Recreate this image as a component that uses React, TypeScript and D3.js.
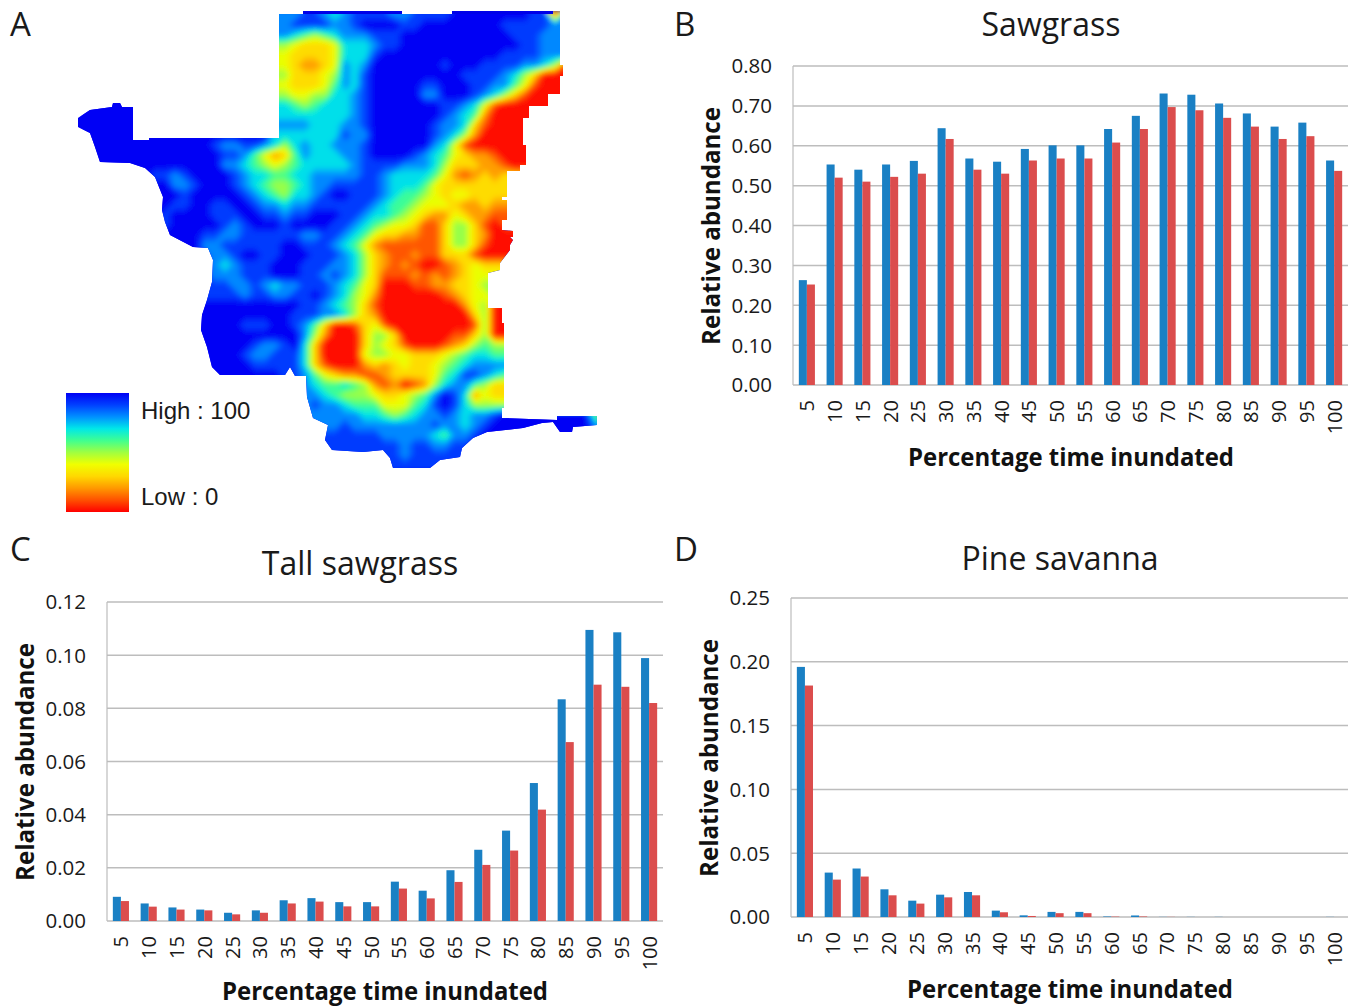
import React, { useEffect, useRef } from 'react'
import * as d3 from 'd3'

const percentInundated = ['5', '10', '15', '20', '25', '30', '35', '40', '45', '50', '55', '60', '65', '70', '75', '80', '85', '90', '95', '100']

const sawgrassBlue = [0.263, 0.553, 0.54, 0.553, 0.562, 0.644, 0.568, 0.56, 0.592, 0.601, 0.601, 0.642, 0.675, 0.731, 0.728, 0.706, 0.681, 0.648, 0.658, 0.563]
const sawgrassRed = [0.252, 0.52, 0.51, 0.522, 0.53, 0.617, 0.54, 0.53, 0.563, 0.568, 0.568, 0.608, 0.642, 0.697, 0.689, 0.67, 0.648, 0.617, 0.624, 0.537]
const sawgrassTicks = [0, 0.1, 0.2, 0.3, 0.4, 0.5, 0.6, 0.7, 0.8]

const tallBlue = [0.0091, 0.0066, 0.0051, 0.0043, 0.0031, 0.004, 0.0078, 0.0086, 0.0071, 0.0071, 0.0148, 0.0114, 0.0191, 0.0268, 0.034, 0.0519, 0.0834, 0.1095, 0.1086, 0.0989]
const tallRed = [0.0075, 0.0054, 0.0043, 0.004, 0.0025, 0.0031, 0.0066, 0.0073, 0.0055, 0.0055, 0.0122, 0.0085, 0.0147, 0.0211, 0.0265, 0.0419, 0.0673, 0.0889, 0.0881, 0.082]
const tallTicks = [0, 0.02, 0.04, 0.06, 0.08, 0.1, 0.12]

const pineBlue = [0.196, 0.0348, 0.038, 0.0217, 0.0128, 0.0175, 0.0196, 0.005, 0.0013, 0.004, 0.004, 0.0004, 0.0012, 0.0001, 0.0001, 0.0001, 0, 0, 0, 0.0001]
const pineRed = [0.1814, 0.0293, 0.0317, 0.017, 0.0105, 0.0154, 0.017, 0.0037, 0.0008, 0.003, 0.003, 0.0003, 0.0004, 0.0001, 0, 0, 0, 0, 0, 0]
const pineTicks = [0, 0.05, 0.1, 0.15, 0.2, 0.25]

// map values, one char per 10x10 cell, 0..9 then a = 100. short rows repeat their last char
const mapRows = [
  'aaaaaaaaaa aaaaaaaaa8 8899878999 9889999aaa aaaaa99288 88',
  'aaaaaaaaaa aaaaaaaaa8 89999889aa aa99aaaaaa aa99999888 88',
  'aaaaaaaaaa aaaaaaaaa8 8765678889 99aaaaaaaa aaa9998888 88',
  'aaaaaaaaaa aaaaaaaaa5 5433347778 99aaaaaaaa aaaa998888 88',
  'aaaaaaaaaa aaaaaaaaa4 4333347779 aaaaaaaaaa aa99998888 88',
  'aaaaaaaaaa aaaaaaaaa4 432234878a aaaaaa9aaa 9999887511 11',
  'aaaaaaaaaa aaaaaaaaa5 533345879a aaaaaaaa99 9987530000 00',
  'aaaaaaaaaa aaaaaaaaa4 433346879a aaaa99aaa9 9886410000 00',
  'aaaaaaaaaa aaaaaaaaa5 544557789a aaaa88aaa9 8753100000 00',
  'aaaaaaaaaa aaaaaaaaa7 765677789a aaaaaa9987 4100000000 00',
  'aaaaaaaaaa aaaaaaaaa7 777777789a aaaaaa9876 2000000000 00',
  'aaaaaaaaaa aaaaaaaaa8 888777889a aaaaa98873 1000000000 00',
  'aaaaaaaaaa aaaaaaaaa7 777777988a aaaaa98752 0000000000 00',
  'aaaaaaaaaa aaa9889987 578778889a aaaaa87410 0000000000 00',
  'aaaaaaaaaa aaaa998642 368777889a aaa9876432 2100000000 00',
  'aaaaaaaaaa aaaa887654 5677777899 9988875333 2210000000 00',
  'aaaaaaa998 9aaaa98776 6778888899 8777764212 3233333333 33',
  'aaaaaaaaa8 89aaa98765 5678899999 8777643333 3333333333 33',
  'aaaaaaaaaa 9aaaaa9876 57789aa999 8766543443 3333333333 33',
  'aaaaaaaaa9 9aa99aa988 7889999998 7665444322 3222222222 22',
  'aaaaaaaa9a aaa999aa99 899aaa9987 7654322432 2111111111 11',
  'aaaaaaaa9a aaaa989aaa 9aaaa99876 5443113553 1011111111 11',
  'aaaaaaaaaa aa99889999 9988998764 3322113553 2000000000 00',
  'aaaaaaaaaa aa88999999 aa99987642 1111113553 1000000000 00',
  'aaaaaaaaaa aa9889aa99 aaa9998753 2112113331 0000000000 00',
  'aaaaaaaaaa aa9878999a aa99988753 2121001234 3333333333 33',
  'aaaaaaaaaa aa9888999a aa99898753 1112121234 4444444444 44',
  'aaaaaaaaaa aa99988987 8899987643 0001122334 5555555555 55',
  'aaaaaaaaaa aa99998998 899a987542 0000001234 4555555555 55',
  'aaaaaaaaaa aaaaaaaaaa aa99876531 0000000024 5000000000 00',
  'aaaaaaaaaa aaaaaaaaaa a999887532 0000000003 5000000000 00',
  'aaaaaaaaaa aaaaaa999a a986300134 1000000001 5000000000 00',
  'aaaaaaaaaa aaaaaaaaaa aa85200035 5300000113 5000000000 00',
  'aaaaaaaaaa aaaaaaa988 9a73000035 4310001235 6555555555 55',
  'aaaaaaaaaa aaaaaa9889 9973000045 5443334567 7666666666 66',
  'aaaaaaaaaa aaaaaaa999 9973100023 2343345678 8888888888 88',
  'aaaaaaaaaa aaaaaaaaaa 9986432211 2333346799 8766666666 66',
  'aaaaaaaaaa aaaaaaaaaa 9987667652 1201257886 5333333333 33',
  'aaaaaaaaaa aaaaaaaaaa 8888765554 334568a972 4333333333 33',
  'aaaaaaaaaa aaaaaaaaaa 8889887666 444679a975 5555555555 55',
  'aaaaaaaaaa aaaaaaaaaa 8888888877 6567889878 89aaaaaaaa a6',
  'aaaaaaaaaa aaaaaaaaaa 8888889888 8888898878 9aaaaaaaaa a8',
  'aaaaaaaaaa aaaaaaaaaa 9999999999 8888876889 aaaaaaaaaa aa',
  'aaaaaaaaaa aaaaaaaaaa 9999999999 998998899a aaaaaaaaaa aa',
  'aaaaaaaaaa aaaaaaaaaa 9999999999 998999999a aaaaaaaaaa aa',
  'aaaaaaaaaa aaaaaaaaaa 9999999999 999999999a aaaaaaaaaa aa'
]

// outline of the mapped area in the same cell units as mapRows
const mapOutline: [number, number][] = [
  [19.9, 0.4], [22.3, 0.4], [22.3, 0.1], [32.2, 0.1], [32.2, 0.4], [37.2, 0.4], [37.2, 0.1], [47.3, 0.1], [48, 0.1],
  [48, 5.5], [48.3, 5.5], [48.3, 6.6], [48, 6.6], [48, 8.4], [46.8, 8.4], [46.8, 9.6], [44.9, 9.6], [44.9, 10.8],
  [44.3, 10.8], [44.3, 13.5], [44.6, 13.5], [44.6, 15.5], [44, 15.5], [44, 16.1], [42.7, 16.1], [42.7, 18.7],
  [42.2, 18.7], [42.2, 19], [42.7, 19], [42.7, 21], [42.2, 21], [42.2, 22], [43.3, 22.1], [43.3, 22.7], [43, 22.7],
  [43.3, 23], [43, 23.5], [43, 24], [42, 25.3], [42, 26], [40.8, 26.3], [40.8, 29.8], [42.2, 29.8], [42.2, 31.3],
  [42.4, 31.3], [42.4, 39.8], [42.2, 39.8], [42.2, 40.8], [47.7, 41], [47.7, 40.6], [51.7, 40.6], [51.7, 41.5],
  [49.3, 41.7], [49.2, 42.2], [48, 42.2], [47.3, 41.2], [46.2, 41.3], [44.3, 41.8], [40.7, 42.2], [39.3, 42.8],
  [38.2, 43.8], [38, 44.7], [36, 45], [35, 45.8], [31.3, 45.8], [31, 44.8], [30.3, 44], [28.3, 44.2], [25.2, 44],
  [24.5, 43], [24.8, 41.5], [23.3, 40.8], [22.7, 38.7], [22.6, 36.6], [21.5, 36.6], [21, 35.7], [20.5, 36.5],
  [14, 36.5], [13.2, 35.7], [12.7, 33.7], [12.1, 32], [12.2, 30.5], [12.7, 29], [13.2, 27.2], [13.3, 25],
  [12.8, 23.8], [11.3, 23.7], [9, 22.5], [8.5, 21.2], [8.2, 20], [8.3, 18.7], [7.5, 16.7], [6.5, 15.8], [5, 15.3],
  [2, 15.2], [1.5, 13.7], [1, 12.3], [-0.2, 11.7], [-0.2, 10.8], [1, 10], [3.2, 9.7], [3.3, 9.3], [4, 9.3],
  [4.2, 9.7], [5.3, 9.7], [5.3, 13], [6.9, 13], [6.9, 12.8], [19.9, 12.8]
]

// dark strips along the top edge of the map, start and end in cell units
const mapTopStrips = [[22.3, 32.2], [37.2, 47.3]]

const jetValues = [0, 10, 20, 30, 40, 50, 60, 70, 80, 90, 100]
const jetColors = ['#ff0000', '#ff5000', '#ff9800', '#ffd800', '#f0ff00', '#a0ff40', '#40ff90', '#00e8e8', '#0090ff', '#0040ff', '#0000f4']

const BLUE = '#1a80c4'
const RED = '#db4d4d'
const GRID = '#bdbdbd'
const FONT = '"Open Sans", sans-serif'

const panels = [
  { title: 'Sawgrass', blue: sawgrassBlue, red: sawgrassRed, ticks: sawgrassTicks, max: 0.8, left: 793, right: 1348, top: 66, bottom: 385, titleX: 1051, titleY: 36, yTitleX: 720, yTitleY: 226, xTitleX: 1071, xTitleY: 466 },
  { title: 'Tall sawgrass', blue: tallBlue, red: tallRed, ticks: tallTicks, max: 0.12, left: 107, right: 663, top: 602, bottom: 921, titleX: 360, titleY: 575, yTitleX: 34, yTitleY: 762, xTitleX: 385, xTitleY: 1000 },
  { title: 'Pine savanna', blue: pineBlue, red: pineRed, ticks: pineTicks, max: 0.25, left: 791, right: 1348, top: 598, bottom: 917, titleX: 1060, titleY: 570, yTitleX: 718, yTitleY: 758, xTitleX: 1070, xTitleY: 998 }
]

const panelLetters = [
  { label: 'A', x: 10, y: 36 },
  { label: 'B', x: 674, y: 36 },
  { label: 'C', x: 10, y: 561 },
  { label: 'D', x: 674, y: 561 }
]

export default function App() {
  const svgRef = useRef<SVGSVGElement>(null)

  useEffect(() => {
    const svg = d3.select(svgRef.current)
    svg.selectAll('*').remove()

    const jet = d3.scaleLinear<string>().domain(jetValues).range(jetColors)

    // panel A
    const mapX = d3.scaleLinear().domain([0, 52]).range([80, 600])
    const mapY = d3.scaleLinear().domain([0, 46]).range([10, 470])
    const outlinePath = d3.line()
      .x(d => mapX(d[0]))
      .y(d => mapY(d[1]))
      .curve(d3.curveLinearClosed)(mapOutline)

    const defs = svg.append('defs')
    defs.append('clipPath').attr('id', 'map-clip').append('path').attr('d', outlinePath)
    defs.append('filter')
      .attr('id', 'map-soften')
      .attr('filterUnits', 'userSpaceOnUse')
      .attr('x', 60).attr('y', 0).attr('width', 560).attr('height', 490)
      .append('feGaussianBlur')
      .attr('stdDeviation', 2.5)

    const gradient = defs.append('linearGradient')
      .attr('id', 'legend-ramp')
      .attr('x1', 0).attr('x2', 0).attr('y1', 1).attr('y2', 0)
    jetValues.forEach((v, i) => {
      gradient.append('stop').attr('offset', `${v}%`).attr('stop-color', jetColors[i])
    })

    const cells = mapRows.flatMap(row => {
      const clean = row.replace(/ /g, '')
      return Array.from(clean.padEnd(52, clean[clean.length - 1]).slice(0, 52)).map(c => parseInt(c, 11) * 10)
    })

    const contours = d3.contours().size([52, mapRows.length]).thresholds(d3.range(0, 100, 2))(cells)
    const project = d3.geoPath(d3.geoTransform({
      point(x, y) {
        this.stream.point(mapX(x), mapY(y))
      }
    }))

    svg.append('path').attr('d', outlinePath).attr('fill', '#0000f4')
    svg.append('g')
      .attr('clip-path', 'url(#map-clip)')
      .append('g')
      .attr('filter', 'url(#map-soften)')
      .selectAll('path')
      .data(contours)
      .join('path')
      .attr('d', d => project(d))
      .attr('fill', d => jet(d.value + 1))

    svg.selectAll('rect.strip')
      .data(mapTopStrips)
      .join('rect')
      .attr('class', 'strip')
      .attr('x', d => mapX(d[0]))
      .attr('y', mapY(0.1))
      .attr('width', d => mapX(d[1]) - mapX(d[0]))
      .attr('height', mapY(0.4) - mapY(0.1))
      .attr('fill', '#0000e8')

    svg.append('rect')
      .attr('x', 66).attr('y', 393).attr('width', 63).attr('height', 119)
      .attr('fill', 'url(#legend-ramp)')

    svg.append('text').attr('x', 141).attr('y', 419).attr('font-family', '"Liberation Sans", sans-serif').attr('font-size', 24).attr('fill', '#1a1a1a').text('High : 100')
    svg.append('text').attr('x', 141).attr('y', 505).attr('font-family', '"Liberation Sans", sans-serif').attr('font-size', 24).attr('fill', '#1a1a1a').text('Low : 0')

    svg.selectAll('text.letter')
      .data(panelLetters)
      .join('text')
      .attr('class', 'letter')
      .attr('x', d => d.x)
      .attr('y', d => d.y)
      .attr('font-family', FONT)
      .attr('font-size', 33)
      .attr('fill', '#1a1a1a')
      .text(d => d.label)

    // panels B, C, D
    panels.forEach(p => {
      const g = svg.append('g')
      const x = d3.scaleBand().domain(percentInundated).range([p.left, p.right]).paddingInner(0.42).paddingOuter(0.21)
      const sub = d3.scaleBand().domain(['blue', 'red']).range([0, x.bandwidth()])
      const y = d3.scaleLinear().domain([0, p.max]).range([p.bottom, p.top])

      g.selectAll('line.grid')
        .data(p.ticks)
        .join('line')
        .attr('class', 'grid')
        .attr('x1', p.left)
        .attr('x2', p.right)
        .attr('y1', d => y(d))
        .attr('y2', d => y(d))
        .attr('stroke', GRID)
        .attr('stroke-width', 1.5)

      g.append('line')
        .attr('x1', p.left).attr('x2', p.left)
        .attr('y1', p.top).attr('y2', p.bottom)
        .attr('stroke', GRID).attr('stroke-width', 1.2)

      const series = [
        { key: 'blue', values: p.blue, color: BLUE },
        { key: 'red', values: p.red, color: RED }
      ]
      series.forEach(s => {
        g.selectAll(`rect.${s.key}`)
          .data(s.values)
          .join('rect')
          .attr('class', s.key)
          .attr('x', (_, i) => x(percentInundated[i]) + sub(s.key))
          .attr('y', d => y(d))
          .attr('width', sub.bandwidth())
          .attr('height', d => p.bottom - y(d))
          .attr('fill', s.color)
      })

      g.selectAll('text.ytick')
        .data(p.ticks)
        .join('text')
        .attr('class', 'ytick')
        .attr('x', p.left - 21)
        .attr('y', d => y(d))
        .attr('dy', '0.36em')
        .attr('text-anchor', 'end')
        .attr('font-family', FONT)
        .attr('font-size', 20.5)
        .attr('fill', '#1a1a1a')
        .text(d => d.toFixed(2))

      g.selectAll('text.xtick')
        .data(percentInundated)
        .join('text')
        .attr('class', 'xtick')
        .attr('transform', d => `translate(${x(d) + x.bandwidth() / 2 + 7.5},${p.bottom + 15}) rotate(-90)`)
        .attr('text-anchor', 'end')
        .attr('font-family', FONT)
        .attr('font-size', 20)
        .attr('fill', '#1a1a1a')
        .text(d => d)

      g.append('text')
        .attr('x', p.titleX).attr('y', p.titleY)
        .attr('text-anchor', 'middle')
        .attr('font-family', FONT)
        .attr('font-size', 32)
        .attr('fill', '#1a1a1a')
        .text(p.title)

      g.append('text')
        .attr('x', p.xTitleX).attr('y', p.xTitleY)
        .attr('text-anchor', 'middle')
        .attr('font-family', FONT)
        .attr('font-weight', 700)
        .attr('font-size', 24.5)
        .attr('textLength', 326)
        .attr('lengthAdjust', 'spacingAndGlyphs')
        .attr('fill', '#111')
        .text('Percentage time inundated')

      g.append('text')
        .attr('transform', `translate(${p.yTitleX},${p.yTitleY}) rotate(-90)`)
        .attr('text-anchor', 'middle')
        .attr('font-family', FONT)
        .attr('font-weight', 700)
        .attr('font-size', 24.5)
        .attr('textLength', 238)
        .attr('lengthAdjust', 'spacingAndGlyphs')
        .attr('fill', '#111')
        .text('Relative abundance')
    })
  }, [])

  return (
    <svg
      ref={svgRef}
      width={1357}
      height={1007}
      style={{ position: 'absolute', left: 0, top: 0, background: '#fff' }}
    />
  )
}
